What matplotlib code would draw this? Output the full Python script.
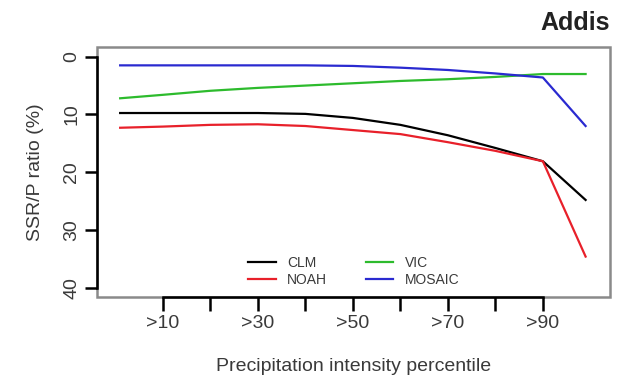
import matplotlib
matplotlib.use("Agg")
import matplotlib.pyplot as plt
from matplotlib.patches import Rectangle

plt.rcParams['font.family'] = ['Liberation Sans', 'DejaVu Sans']

# percentile threshold for each point
percentiles = [1, 10, 20, 30, 40, 50, 60, 70, 80, 90, 99]

clm = [9.75, 9.75, 9.75, 9.75, 9.9, 10.6, 11.8, 13.6, 15.8, 18.1, 24.8]
noah = [12.3, 12.1, 11.8, 11.7, 12.0, 12.7, 13.4, 14.8, 16.3, 18.1, 34.6]
vic = [7.2, 6.6, 5.9, 5.4, 5.0, 4.6, 4.2, 3.9, 3.5, 3.0, 3.0]
mosaic = [1.5, 1.5, 1.5, 1.5, 1.5, 1.6, 1.9, 2.3, 2.9, 3.6, 12.0]

tick_positions = [10, 20, 30, 40, 50, 60, 70, 80, 90]
tick_labels = [">10", "", ">30", "", ">50", "", ">70", "", ">90"]
y_ticks = [0, 10, 20, 30, 40]

text_color = "#3a3a3a"


def main():
    fig = plt.figure(figsize=(6.21, 3.75), dpi=100)
    ax = fig.add_axes([0.156, 0.208, 0.826, 0.667])

    ax.plot(percentiles, clm, color="black", lw=1.6, label="CLM")
    ax.plot(percentiles, noah, color="#e8202a", lw=1.6, label="NOAH")
    ax.plot(percentiles, vic, color="#2dbb2d", lw=1.6, label="VIC")
    ax.plot(percentiles, mosaic, color="#2a2ad0", lw=1.6, label="MOSAIC")

    ax.set_xlim(-3.9, 104.1)
    ax.set_ylim(41.6, -1.7)

    # R-style box plus axes
    for side in ["top", "right"]:
        ax.spines[side].set_visible(False)
    ax.add_patch(Rectangle((0, 0), 1, 1, transform=ax.transAxes, fill=False,
                           edgecolor="#8a8a8a", lw=1.8, clip_on=False, zorder=0))
    ax.spines["left"].set_bounds(0, 40)
    ax.spines["bottom"].set_bounds(10, 90)
    ax.spines["left"].set_linewidth(1.8)
    ax.spines["bottom"].set_linewidth(1.8)

    ax.set_xticks(tick_positions)
    ax.set_xticklabels(tick_labels, fontsize=14, color=text_color)
    ax.set_yticks(y_ticks)
    ax.set_yticklabels([str(v) for v in y_ticks], fontsize=14, color=text_color,
                       rotation=90, va="center")
    ax.tick_params(axis="x", length=10, width=1.8, pad=3)
    ax.tick_params(axis="y", length=9, width=1.8, pad=3)

    ax.set_xlabel("Precipitation intensity percentile", fontsize=14,
                  color=text_color, labelpad=19)
    ax.set_ylabel("SSR/P ratio (%)", fontsize=14, color=text_color, labelpad=14)

    fig.text(0.982, 0.94, "Addis", fontsize=18, fontweight="bold",
             ha="right", va="center", color="#222222")

    ax.legend(ncol=2, loc="lower left", bbox_to_anchor=(0.27, -0.01),
              frameon=False, fontsize=10, handlelength=2.0, columnspacing=2.8,
              labelspacing=0.2, labelcolor=text_color)

    fig.savefig("out.png", dpi=100)


if __name__ == "__main__":
    main()
